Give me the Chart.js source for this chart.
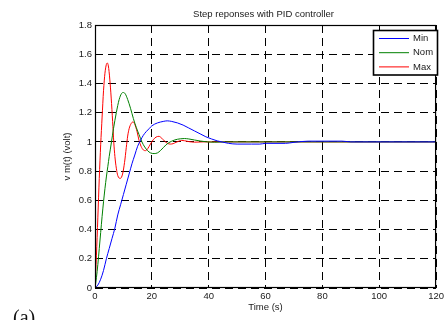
<!DOCTYPE html>
<html>
<head>
<meta charset="utf-8">
<script src="https://cdn.jsdelivr.net/npm/chart.js@4.4.1/dist/chart.umd.min.js"></script>
<style>
  html, body { margin: 0; padding: 0; background: #fff; }
  #wrap { position: relative; width: 447px; height: 320px; }
  #tag { position: absolute; left: 13px; top: 307px; font: 20px "Liberation Serif", serif; line-height: 20px; color: #111; }
</style>
</head>
<body>
<div id="wrap">
  <canvas id="stepChart" width="447" height="320"></canvas>
  <div id="tag">(a)</div>
</div>
<script>
const chartTitle = "Step reponses with PID controller";
const xTitle = "Time (s)";
const yTitle = "v m(t) (volt)";
const seriesNames = ["Min", "Nom", "Max"];
const seriesColors = ["#0000ff", "#008000", "#ff0000"];

// time (s) and response (volt)
const timeMin = [0, 1, 2, 3, 4, 5, 6, 7, 8, 9, 10, 11, 12, 13, 14, 15, 16, 17, 18, 19, 20, 22, 24, 25.4, 27, 29, 31, 33, 35, 37, 39, 41, 43, 45, 47, 50, 55, 58, 60, 67, 70, 75, 87, 90, 120];
const valMin  = [0, 0.02, 0.06, 0.12, 0.2, 0.27, 0.34, 0.41, 0.5, 0.57, 0.64, 0.71, 0.78, 0.85, 0.91, 0.97, 1.01, 1.045, 1.07, 1.09, 1.11, 1.13, 1.14, 1.144, 1.14, 1.13, 1.115, 1.095, 1.075, 1.055, 1.035, 1.02, 1.007, 0.998, 0.99, 0.985, 0.985, 0.985, 0.99, 0.99, 0.997, 1.005, 1.005, 1.0, 1.0];

const timeNom = [0, 0.5, 1, 1.5, 2, 2.5, 3, 3.5, 4, 4.5, 5, 5.8, 6.5, 7.5, 8.5, 9.3, 9.9, 10.6, 11.5, 12.5, 13.5, 14.5, 15.5, 16.5, 17.5, 18.5, 19.5, 20.8, 22, 23, 24, 25, 26, 27, 28, 29, 30, 31.5, 33, 35, 37, 39, 42, 46, 120];
const valNom  = [0, 0.07, 0.16, 0.27, 0.38, 0.49, 0.59, 0.68, 0.76, 0.83, 0.9, 1.0, 1.09, 1.2, 1.29, 1.33, 1.338, 1.33, 1.29, 1.23, 1.16, 1.1, 1.05, 1.0, 0.965, 0.94, 0.925, 0.92, 0.925, 0.94, 0.96, 0.98, 0.995, 1.005, 1.013, 1.018, 1.021, 1.023, 1.02, 1.013, 1.006, 1.001, 0.998, 1.0, 1.0];

const timeMax = [0, 0.5, 1, 1.5, 2, 2.5, 3, 3.5, 4, 4.3, 4.7, 5.2, 5.7, 6.2, 6.6, 7, 7.5, 8, 8.9, 9.7, 10.4, 11, 11.5, 12, 12.7, 13.4, 14, 14.8, 15.5, 16.2, 17, 17.8, 18.6, 19.5, 20.5, 21.5, 22.5, 23.5, 24.5, 25.5, 26.5, 27.5, 28.5, 29.5, 30.5, 31.5, 33, 35, 38, 120];
const valMax  = [0, 0.22, 0.48, 0.75, 0.98, 1.17, 1.35, 1.47, 1.53, 1.54, 1.52, 1.43, 1.3, 1.14, 1.0, 0.9, 0.82, 0.77, 0.75, 0.78, 0.86, 0.96, 1.04, 1.09, 1.125, 1.137, 1.12, 1.07, 1.01, 0.97, 0.945, 0.94, 0.955, 0.985, 1.015, 1.033, 1.038, 1.025, 1.005, 0.99, 0.985, 0.988, 0.997, 1.005, 1.01, 1.008, 1.002, 0.998, 1.0, 1.0];

const series = [[timeMin, valMin], [timeNom, valNom], [timeMax, valMax]];

Chart.defaults.font.family = "'Liberation Sans', Arial, sans-serif";
Chart.defaults.font.size = 9.5;
Chart.defaults.color = "#1a1a1a";

const framePlugin = {
  id: "frame",
  afterDatasetsDraw(chart) {
    const { ctx, chartArea: a } = chart;
    ctx.save();
    ctx.strokeStyle = "#000";
    ctx.lineWidth = 1.2;
    ctx.strokeRect(a.left + 0.5, a.top + 0.5, a.right - a.left - 1, a.bottom - a.top - 1);
    ctx.restore();
  }
};

const titlePlugin = {
  id: "plotTitle",
  afterDraw(chart) {
    const { ctx, chartArea: a } = chart;
    ctx.save();
    ctx.font = "9.5px 'Liberation Sans', Arial, sans-serif";
    ctx.fillStyle = "#1a1a1a";
    ctx.textAlign = "center";
    ctx.textBaseline = "middle";
    ctx.fillText(chartTitle, (a.left + a.right) / 2 - 2, 14);
    ctx.restore();
  }
};

const legendPlugin = {
  id: "boxLegend",
  afterDraw(chart) {
    const ctx = chart.ctx;
    ctx.save();
    ctx.fillStyle = "#fff";
    ctx.fillRect(373, 30, 64, 45);
    ctx.strokeStyle = "#000";
    ctx.lineWidth = 1.6;
    ctx.strokeRect(373.5, 30.5, 64, 44.5);
    ctx.font = "9.5px 'Liberation Sans', Arial, sans-serif";
    ctx.textBaseline = "middle";
    chart.data.datasets.forEach((ds, i) => {
      const y = 38.5 + i * 14.2;
      ctx.strokeStyle = ds.borderColor;
      ctx.lineWidth = 1;
      ctx.beginPath();
      ctx.moveTo(379, y);
      ctx.lineTo(409, y);
      ctx.stroke();
      ctx.fillStyle = "#1a1a1a";
      ctx.fillText(ds.label, 413, y);
    });
    ctx.restore();
  }
};

new Chart(document.getElementById("stepChart"), {
  type: "line",
  data: {
    datasets: series.map(([t, v], i) => ({
      label: seriesNames[i],
      data: t.map((x, k) => ({ x, y: v[k] })),
      borderColor: seriesColors[i],
      borderWidth: 1,
      pointRadius: 0,
      cubicInterpolationMode: "monotone",
      fill: false
    }))
  },
  options: {
    responsive: false,
    animation: false,
    layout: { padding: { top: 25, right: 5, left: 0, bottom: 0 } },
    plugins: { legend: { display: false }, tooltip: { enabled: false } },
    scales: {
      x: {
        type: "linear", min: 0, max: 120,
        ticks: { stepSize: 20, padding: 3, maxRotation: 0, autoSkip: false },
        grid: { color: "#000", drawTicks: false },
        border: { display: false, dash: [8, 5] },
        title: { display: true, text: xTitle, padding: { top: 0, bottom: 7 } },
        afterFit(scale) { scale.height = 32; }
      },
      y: {
        min: 0, max: 1.8,
        ticks: { stepSize: 0.2, padding: 3, callback: v => String(Math.round(v * 10) / 10) },
        grid: { color: "#000", drawTicks: false },
        border: { display: false, dash: [8, 5] },
        title: { display: true, text: yTitle, padding: { top: 62, bottom: 0 } },
        afterFit(scale) { scale.width = 95; }
      }
    }
  },
  plugins: [framePlugin, titlePlugin, legendPlugin]
});
</script>
</body>
</html>
